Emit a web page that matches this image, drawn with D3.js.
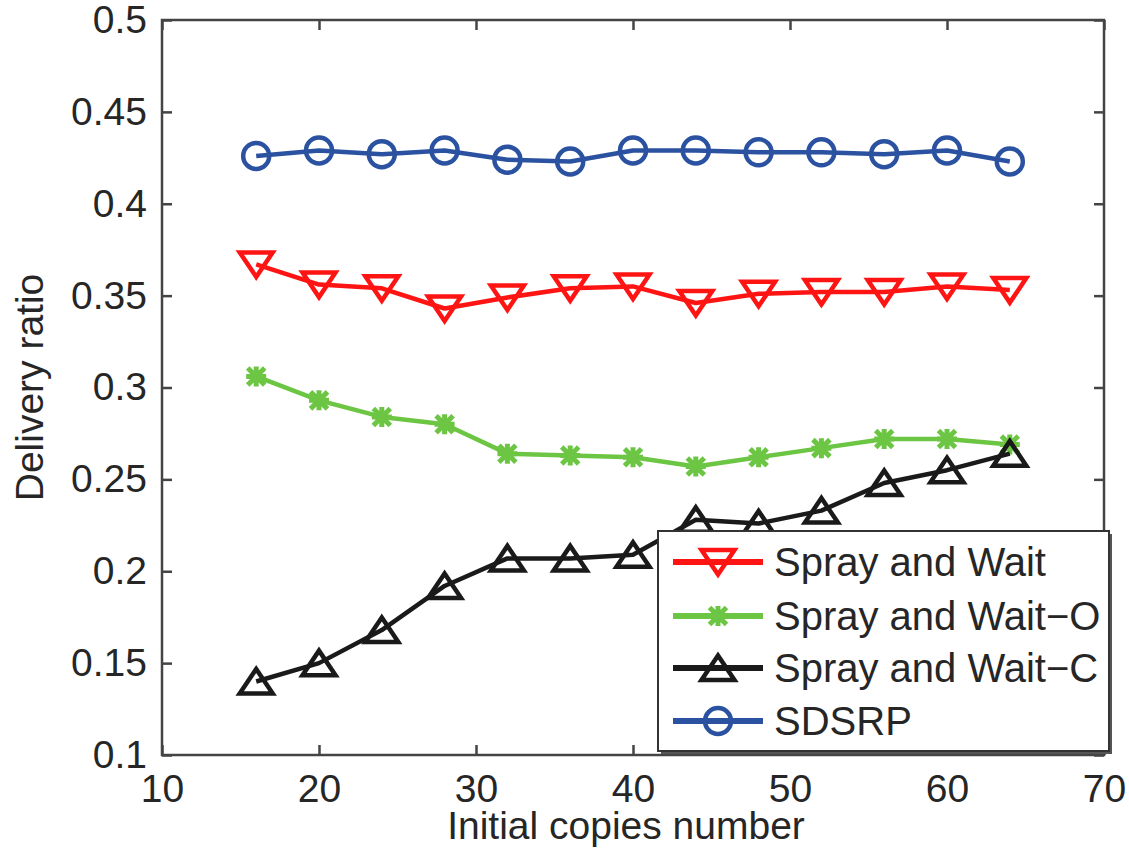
<!DOCTYPE html>
<html>
<head>
<meta charset="utf-8">
<script src="https://cdn.jsdelivr.net/npm/d3@7"></script>
<style>
  html, body { margin: 0; padding: 0; background: #fff; }
  svg { display: block; }
  text { font-family: "Liberation Sans", Arial, sans-serif; fill: #262626; }
</style>
</head>
<body>
<script>
// ---- data ----
const copies = [16, 20, 24, 28, 32, 36, 40, 44, 48, 52, 56, 60, 64];
const sprayWait  = [0.367, 0.356, 0.354, 0.343, 0.349, 0.354, 0.355, 0.346, 0.351, 0.352, 0.352, 0.355, 0.353];
const sprayWaitO = [0.306, 0.293, 0.284, 0.280, 0.264, 0.263, 0.262, 0.257, 0.262, 0.267, 0.272, 0.272, 0.269];
const sprayWaitC = [0.140, 0.150, 0.168, 0.192, 0.207, 0.207, 0.209, 0.228, 0.226, 0.233, 0.248, 0.255, 0.264];
const sdsrp      = [0.426, 0.429, 0.427, 0.429, 0.424, 0.423, 0.429, 0.429, 0.428, 0.428, 0.427, 0.429, 0.423];
const seriesNames = ["Spray and Wait", "Spray and Wait\u2212O", "Spray and Wait\u2212C", "SDSRP"];
const xTicks = [10, 20, 30, 40, 50, 60, 70];
const yTicks = [0.1, 0.15, 0.2, 0.25, 0.3, 0.35, 0.4, 0.45, 0.5];
const yTickLabels = ["0.1", "0.15", "0.2", "0.25", "0.3", "0.35", "0.4", "0.45", "0.5"];
const xLabel = "Initial copies number";
const yLabel = "Delivery ratio";

const series = [
  { name: seriesNames[0], values: sprayWait,  color: "#ff1414", marker: "tdown" },
  { name: seriesNames[1], values: sprayWaitO, color: "#6cc644", marker: "star" },
  { name: seriesNames[2], values: sprayWaitC, color: "#1a1a1a", marker: "tup" },
  { name: seriesNames[3], values: sdsrp,      color: "#2b52a0", marker: "circle" }
];

const W = 1129, H = 853;
const L = 162, R = 1104, T = 20, B = 755;
const FS = 39;

const svg = d3.select("body").append("svg").attr("width", W).attr("height", H);

const x = d3.scaleLinear().domain([10, 70]).range([L, R]);
const y = d3.scaleLinear().domain([0.1, 0.5]).range([B, T]);

function markerPath(type) {
  switch (type) {
    case "tdown": return "M-16.5,-12L16.5,-12L0,12.5Z";
    case "tup":   return "M-16.5,12L16.5,12L0,-12.5Z";
    case "star":  return "M-8.5,-8.5L8.5,8.5M-8.5,8.5L8.5,-8.5M0,-10L0,10M-10,0L10,0";
  }
}
function drawMarker(g, type, color) {
  if (type === "circle") {
    g.append("circle").attr("r", 13).attr("fill", "none").attr("stroke", color).attr("stroke-width", 4.5);
  } else {
    g.append("path").attr("d", markerPath(type)).attr("fill", "none")
      .attr("stroke", color).attr("stroke-width", type === "star" ? 5 : 4.5)
      .attr("stroke-linejoin", "miter");
  }
}

// ---- axes ----
const axisColor = "#444";
const gx = svg.append("g").attr("transform", `translate(0,${B})`)
  .call(d3.axisBottom(x).tickValues(xTicks).tickSize(-10).tickPadding(19).tickFormat(d3.format("d")));
const gxt = svg.append("g").attr("transform", `translate(0,${T})`)
  .call(d3.axisTop(x).tickValues(xTicks).tickSize(-10).tickFormat(""));
const gy = svg.append("g").attr("transform", `translate(${L},0)`)
  .call(d3.axisLeft(y).tickValues(yTicks).tickSize(-10).tickPadding(15).tickFormat((d, i) => yTickLabels[i]));
const gyr = svg.append("g").attr("transform", `translate(${R},0)`)
  .call(d3.axisRight(y).tickValues(yTicks).tickSize(-10).tickFormat(""));
[gx, gxt, gy, gyr].forEach(g => {
  g.select(".domain").remove();
  g.selectAll(".tick line").attr("stroke", axisColor).attr("stroke-width", 2.5);
  g.selectAll(".tick text").attr("font-size", FS).attr("font-family", "Liberation Sans, Arial, sans-serif").attr("fill", "#262626");
});

svg.append("rect").attr("x", L).attr("y", T).attr("width", R - L).attr("height", B - T)
  .attr("fill", "none").attr("stroke", axisColor).attr("stroke-width", 2.5);

// axis labels
svg.append("text").attr("x", 626).attr("y", 839).attr("text-anchor", "middle")
  .attr("font-size", FS).text(xLabel);
svg.append("text").attr("transform", `translate(43,${(T + B) / 2}) rotate(-90)`)
  .attr("text-anchor", "middle").attr("font-size", FS).text(yLabel);

// ---- series ----
const line = d3.line().x((d, i) => x(copies[i])).y(d => y(d));
series.forEach(s => {
  svg.append("path").datum(s.values).attr("d", line).attr("fill", "none")
    .attr("stroke", s.color).attr("stroke-width", 4.5).attr("stroke-linejoin", "round");
  s.values.forEach((v, i) => {
    const g = svg.append("g").attr("transform", `translate(${x(copies[i])},${y(v)})`);
    drawMarker(g, s.marker, s.color);
  });
});

// ---- legend ----
const lg = svg.append("g");
const lx0 = 658, ly0 = 531, lx1 = 1109, ly1 = 751;
lg.append("rect").attr("x", lx0 + 3).attr("y", ly0 + 3).attr("width", lx1 - lx0).attr("height", ly1 - ly0)
  .attr("fill", "#555");
lg.append("rect").attr("x", lx0).attr("y", ly0).attr("width", lx1 - lx0).attr("height", ly1 - ly0)
  .attr("fill", "#fff").attr("stroke", "#333").attr("stroke-width", 2);
const rowY = [562, 616, 668, 721];
series.forEach((s, i) => {
  const ry = rowY[i];
  lg.append("line").attr("x1", 673).attr("x2", 763).attr("y1", ry).attr("y2", ry)
    .attr("stroke", s.color).attr("stroke-width", 6);
  const g = lg.append("g").attr("transform", `translate(718,${ry})`);
  drawMarker(g, s.marker, s.color);
  lg.append("text").attr("x", 774).attr("y", ry).attr("dy", "0.35em").attr("font-size", 40).text(s.name);
});
</script>
</body>
</html>
